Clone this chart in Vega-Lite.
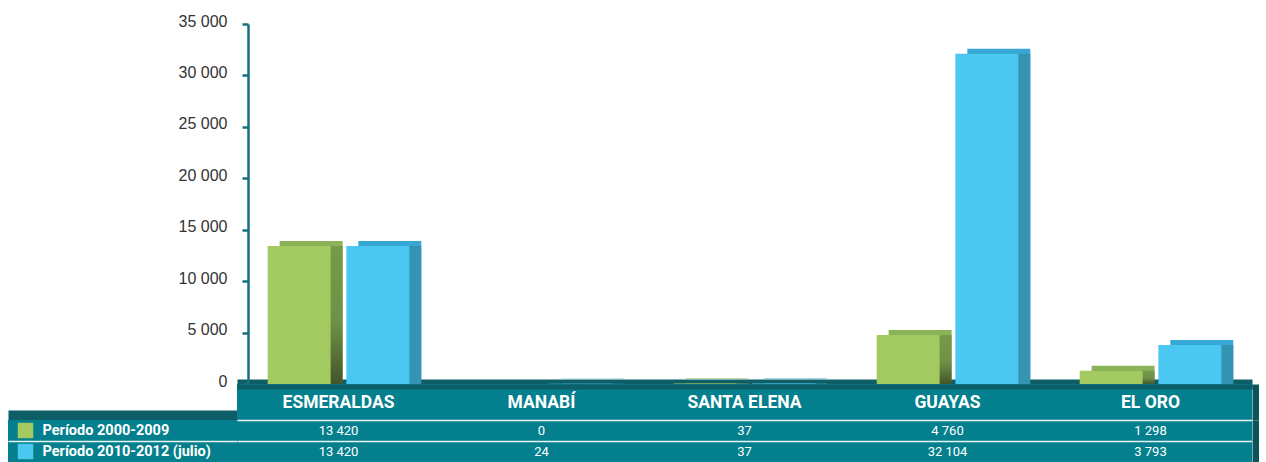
{
  "$schema": "https://vega.github.io/schema/vega-lite/v6.json",
  "background": "white",
  "padding": {"left": 8, "top": 13, "right": 0, "bottom": 0},
  "config": {
    "view": {"stroke": null},
    "locale": {"number": {"decimal": ",", "thousands": " ", "grouping": [3], "currency": ["", ""]}},
    "axis": {"grid": false, "title": null}
  },
  "datasets": {
    "datos": [
      {"provincia": "ESMERALDAS", "serie": "Período 2000-2009", "valor": 13420},
      {"provincia": "ESMERALDAS", "serie": "Período 2010-2012 (julio)", "valor": 13420},
      {"provincia": "MANABÍ", "serie": "Período 2000-2009", "valor": 0},
      {"provincia": "MANABÍ", "serie": "Período 2010-2012 (julio)", "valor": 24},
      {"provincia": "SANTA ELENA", "serie": "Período 2000-2009", "valor": 37},
      {"provincia": "SANTA ELENA", "serie": "Período 2010-2012 (julio)", "valor": 37},
      {"provincia": "GUAYAS", "serie": "Período 2000-2009", "valor": 4760},
      {"provincia": "GUAYAS", "serie": "Período 2010-2012 (julio)", "valor": 32104},
      {"provincia": "EL ORO", "serie": "Período 2000-2009", "valor": 1298},
      {"provincia": "EL ORO", "serie": "Período 2010-2012 (julio)", "valor": 3793}
    ],
    "provincias": [
      {"provincia": "ESMERALDAS", "fila": "encabezado"},
      {"provincia": "MANABÍ", "fila": "encabezado"},
      {"provincia": "SANTA ELENA", "fila": "encabezado"},
      {"provincia": "GUAYAS", "fila": "encabezado"},
      {"provincia": "EL ORO", "fila": "encabezado"}
    ],
    "series": [
      {"serie": "Período 2000-2009"},
      {"serie": "Período 2010-2012 (julio)"}
    ]
  },
  "columns": 2,
  "spacing": 0,
  "bounds": "flush",
  "concat": [
    {
      "width": 229, "height": 360,
      "data": {"values": [{"k": "a"}]},
      "mark": {"type": "text", "text": ""},
      "encoding": {}
    },
    {
      "width": 1015, "height": 360,
      "data": {"name": "datos"},
      "encoding": {
        "x": {"field": "provincia", "type": "nominal", "sort": null,
              "scale": {"paddingInner": 0, "paddingOuter": 0},
              "axis": {"labels": false, "ticks": false, "domain": true, "domainColor": "#0d5e66", "domainWidth": 10, "title": null}},
        "y": {"field": "valor", "type": "quantitative",
              "scale": {"domain": [0, 35000], "nice": false},
              "axis": {"values": [0, 5000, 10000, 15000, 20000, 25000, 30000, 35000], "format": ",d",
                       "offset": -11, "domainColor": "#17717c", "domainWidth": 2.5,
                       "tickColor": "#17717c", "tickWidth": 2.5, "tickSize": 6,
                       "labelPadding": 15, "labelFont": "Liberation Sans", "labelFontSize": 16,
                       "labelColor": "#333333", "labelOffset": -3, "title": null}}
      },
      "layer": [
        {
          "transform": [{"filter": "datum.valor > 0"}],
          "mark": {"type": "bar", "yOffset": -5, "y2Offset": 0},
          "encoding": {
            "xOffset": {"field": "serie", "type": "nominal", "sort": null,
                        "scale": {"domain": ["Período 2000-2009", "Período 2010-2012 (julio)"], "paddingInner": 0.2, "paddingOuter": 0.39, "align": 0.695}},
            "color": {"field": "serie", "type": "nominal", "sort": null,
                      "scale": {"range": ["#8ab257", "#37a8d5"]}, "legend": null}}
        },
        {
          "transform": [{"filter": "datum.valor > 0 && datum.serie == 'Período 2000-2009'"}],
          "mark": {"type": "bar",
                   "color": {"gradient": "linear", "x1": 0, "y1": 0, "x2": 0, "y2": 1,
                             "stops": [{"offset": 0, "color": "#76994a"}, {"offset": 0.55, "color": "#6f9146"}, {"offset": 1, "color": "#43552a"}]}},
          "encoding": {
            "xOffset": {"field": "serie", "type": "nominal", "sort": null,
                        "scale": {"domain": ["Período 2000-2009", "Período 2010-2012 (julio)"], "paddingInner": 0.2, "paddingOuter": 0.39, "align": 0.695}}}
        },
        {
          "transform": [{"filter": "datum.valor > 0 && datum.serie == 'Período 2010-2012 (julio)'"}],
          "mark": {"type": "bar", "color": "#3394b4"},
          "encoding": {
            "xOffset": {"field": "serie", "type": "nominal", "sort": null,
                        "scale": {"domain": ["Período 2000-2009", "Período 2010-2012 (julio)"], "paddingInner": 0.2, "paddingOuter": 0.39, "align": 0.695}}}
        },
        {
          "mark": {"type": "bar"},
          "encoding": {
            "xOffset": {"field": "serie", "type": "nominal", "sort": null,
                        "scale": {"domain": ["Período 2000-2009", "Período 2010-2012 (julio)"], "paddingInner": 0.2, "paddingOuter": 0.39}},
            "color": {"field": "serie", "type": "nominal", "sort": null,
                      "scale": {"range": ["#a2ca60", "#4ac8f2"]}, "legend": null}}
        }
      ],
      "resolve": {"scale": {"color": "independent", "xOffset": "independent"}}
    },
    {
      "width": 229, "height": 36,
      "data": {"values": [{"k": "a"}]},
      "mark": {"type": "text", "text": ""},
      "encoding": {
        "x": {"field": "k", "type": "nominal",
              "axis": {"orient": "bottom", "labels": false, "ticks": false, "domainColor": "#0d5e66",
                       "domainWidth": 10, "offset": -5, "title": null}}
      }
    },
    {
      "width": 1015, "height": 36,
      "view": {"fill": "#047f8d", "stroke": null},
      "data": {"name": "provincias"},
      "mark": {"type": "text", "color": "white", "fontWeight": "bold", "fontSize": 17.5,
               "font": "Roboto", "baseline": "middle", "dy": 1},
      "encoding": {
        "x": {"field": "provincia", "type": "nominal", "sort": null,
              "scale": {"paddingInner": 0, "paddingOuter": 0},
              "axis": {"orient": "top", "labels": false, "ticks": false, "domainColor": "#0d5e66",
                       "domainWidth": 5, "offset": -2.5, "title": null}},
        "y": {"field": "fila", "type": "nominal",
              "axis": {"orient": "right", "labels": false, "ticks": false, "domainColor": "#0a555c",
                       "domainWidth": 13, "offset": 6.5, "title": null}},
        "text": {"field": "provincia"}
      }
    },
    {
      "width": 229, "height": 42,
      "view": {"fill": "#047f8d", "stroke": null},
      "data": {"name": "series"},
      "encoding": {
        "y": {"field": "serie", "type": "nominal", "sort": null,
              "scale": {"type": "band", "paddingInner": 0, "paddingOuter": 0},
              "axis": {"orient": "left", "labels": false, "ticks": false, "domain": false,
                       "grid": true, "gridColor": "#e6f4f5", "gridWidth": 1.5, "bandPosition": 0,
                       "values": ["Período 2010-2012 (julio)"], "title": null}}
      },
      "layer": [
        {
          "mark": {"type": "point", "shape": "square", "size": 240, "filled": true, "opacity": 1, "xOffset": -97},
          "encoding": {"color": {"field": "serie", "type": "nominal", "sort": null,
                                 "scale": {"range": ["#a2ca60", "#4ac8f2"]}, "legend": null}}
        },
        {
          "mark": {"type": "text", "align": "left", "baseline": "middle", "dx": -80, "color": "white",
                   "fontWeight": "bold", "fontSize": 14.5, "font": "Roboto"},
          "encoding": {"text": {"field": "serie"}}
        }
      ]
    },
    {
      "width": 1015, "height": 42,
      "view": {"fill": "#047f8d", "stroke": null},
      "data": {"name": "datos"},
      "mark": {"type": "text", "color": "white", "fontSize": 13, "baseline": "middle", "font": "Roboto"},
      "encoding": {
        "x": {"field": "provincia", "type": "nominal", "sort": null,
              "scale": {"type": "band", "paddingInner": 0, "paddingOuter": 0}, "axis": null},
        "y": {"field": "serie", "type": "nominal", "sort": null,
              "scale": {"type": "band", "paddingInner": 0, "paddingOuter": 0},
              "axis": {"orient": "right", "labels": false, "ticks": false, "domainColor": "#0a555c",
                       "domainWidth": 13, "offset": 6.5,
                       "grid": true, "gridColor": "#e6f4f5", "gridWidth": 1.5, "bandPosition": 0, "title": null}},
        "text": {"field": "valor", "type": "quantitative", "format": ",d"}
      }
    }
  ]
}
